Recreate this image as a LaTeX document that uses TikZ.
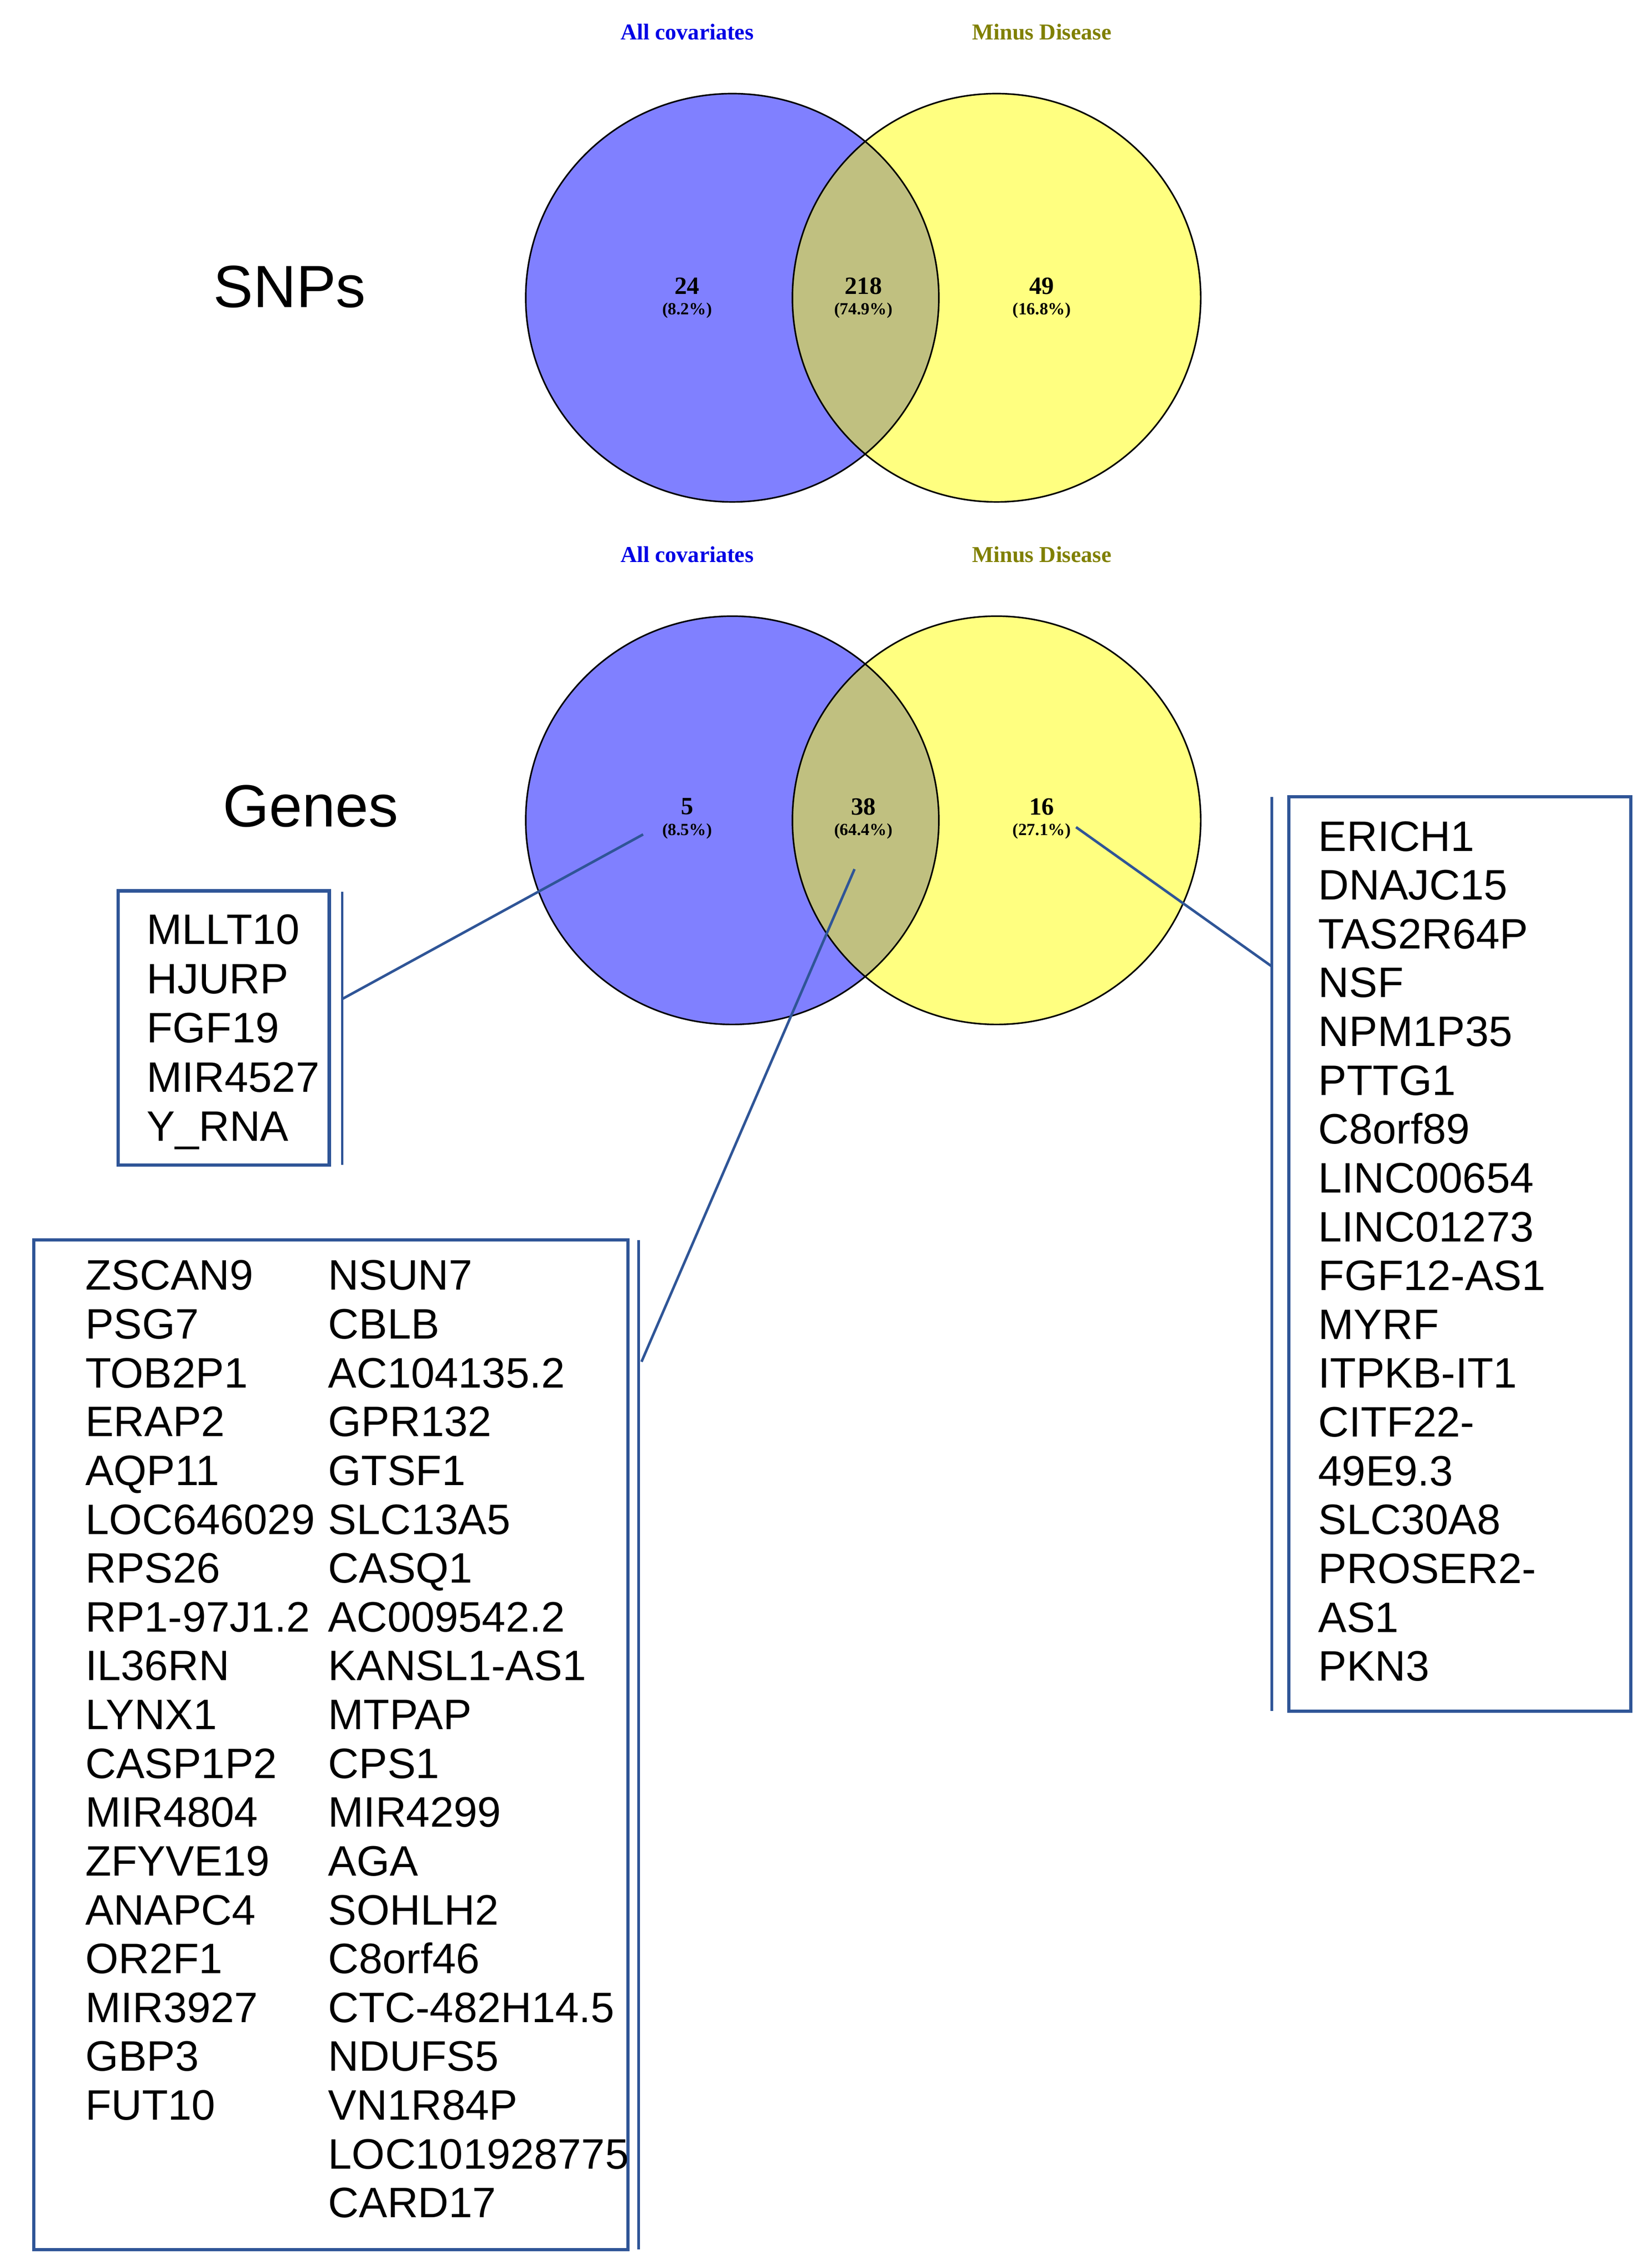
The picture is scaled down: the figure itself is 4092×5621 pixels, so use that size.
\documentclass[tikz,border=0pt]{standalone}
\usepackage{fontspec}
\setmainfont{Liberation Sans}
\newfontfamily\tms{Liberation Serif}
\definecolor{bx}{RGB}{47,85,151}
\definecolor{vb}{RGB}{128,128,255}
\definecolor{vy}{RGB}{255,255,128}
\definecolor{vo}{RGB}{192,192,128}
\definecolor{ol}{RGB}{128,128,0}
\begin{document}
\begin{tikzpicture}[x=0.01cm,y=-0.01cm,
  gene/.style={anchor=base west,inner sep=0,font=\fontsize{30}{34}\selectfont},
  lab/.style={font=\tms\bfseries\fontsize{16}{18}\selectfont},
  num/.style={font=\tms\bfseries\fontsize{17.5}{19}\selectfont},
  pct/.style={font=\tms\bfseries\fontsize{12}{13}\selectfont},
  box/.style={draw=bx,line width=2.3pt,inner sep=0},
  con/.style={draw=bx,line width=1.8pt}]
\useasboundingbox (0,0) rectangle (4092,5621);
\foreach \oy/\nm in {0/S,1295/G}{
  \begin{scope}[yshift=-\oy*0.01cm]
  \fill[vb] (1815,738) ellipse [x radius=512,y radius=506];
  \fill[vy] (2470,738) ellipse [x radius=506,y radius=506];
  \begin{scope}
    \clip (1815,738) ellipse [x radius=512,y radius=506];
    \fill[vo] (2470,738) ellipse [x radius=506,y radius=506];
  \end{scope}
  \draw[line width=1.1pt] (1815,738) ellipse [x radius=512,y radius=506];
  \draw[line width=1.1pt] (2470,738) ellipse [x radius=506,y radius=506];
  \node[lab,text=blue!90!black] (\nm la) at (1703,79) {All covariates};
  \node[lab,text=ol] (\nm lb) at (2582,79) {Minus Disease};
  \end{scope}}
\foreach \oy/\nm/\a/\b/\c/\pa/\pb/\pc in {0/S/24/218/49/8.2/74.9/16.8, 1290/G/5/38/16/8.5/64.4/27.1}{
  \node[num] (\nm na) at (1703,709+\oy) {\a};
  \node[num] (\nm nb) at (2140,709+\oy) {\b};
  \node[num] (\nm nc) at (2582,709+\oy) {\c};
  \node[pct] (\nm pa) at (1703,770+\oy) {(\pa\%)};
  \node[pct] (\nm pb) at (2140,770+\oy) {(\pb\%)};
  \node[pct] (\nm pc) at (2582,770+\oy) {(\pc\%)};
}
\node[font=\fontsize{42}{46}\selectfont] (snps) at (718,711) {SNPs};
\node[font=\fontsize{42}{46}\selectfont] (genes) at (770,1998) {Genes};
% boxes
\node[box,minimum width=5.23cm,minimum height=6.79cm] (b1) at (554.5,2547.5) {};
\node[box,minimum width=14.72cm,minimum height=25.01cm] (b2) at (820,4324.5) {};
\node[box,minimum width=8.47cm,minimum height=22.65cm] (b3) at (3618.5,3107.5) {};
\coordinate (e1t) at (848,2210); \coordinate (e1b) at (848,2887);
\coordinate (e2t) at (1583,3074); \coordinate (e2b) at (1583,5575);
\coordinate (e3t) at (3152,1975); \coordinate (e3b) at (3152,4240);
\draw[con] (e1t) -- (e1b);
\draw[con] (e2t) -- (e2b);
\draw[con] (e3t) -- (e3b);
\coordinate (c1a) at (848,2476); \coordinate (c1b) at (1594,2068);
\coordinate (c2a) at (1590,3375); \coordinate (c2b) at (2118,2154);
\coordinate (c3a) at (3152,2395); \coordinate (c3b) at (2667,2050);
\draw[con] (c1a) -- (c1b);
\draw[con] (c2a) -- (c2b);
\draw[con] (c3a) -- (c3b);
% lists
\foreach \t [count=\i] in {MLLT10,HJURP,FGF19,MIR4527,Y\_RNA}
  \node[gene] (s\i) at (363,2340+122*\i-122) {\t};
\foreach \t [count=\i] in {ZSCAN9,PSG7,TOB2P1,ERAP2,AQP11,LOC646029,RPS26,RP1-97J1.2,IL36RN,LYNX1,CASP1P2,MIR4804,ZFYVE19,ANAPC4,OR2F1,MIR3927,GBP3,FUT10}
  \node[gene] (m\i) at (211,3197+121*\i-121) {\t};
\foreach \t [count=\i] in {NSUN7,CBLB,AC104135.2,GPR132,GTSF1,SLC13A5,CASQ1,AC009542.2,KANSL1-AS1,MTPAP,CPS1,MIR4299,AGA,SOHLH2,C8orf46,CTC-482H14.5,NDUFS5,VN1R84P,LOC101928775,CARD17}
  \node[gene] (n\i) at (813,3197+121*\i-121) {\t};
\foreach \t [count=\i] in {ERICH1,DNAJC15,TAS2R64P,NSF,NPM1P35,PTTG1,C8orf89,LINC00654,LINC01273,FGF12-AS1,MYRF,ITPKB-IT1,CITF22-,49E9.3,SLC30A8,PROSER2-,AS1,PKN3}
  \node[gene] (r\i) at (3267,2109+121*\i-121) {\t};
\end{tikzpicture}
\end{document}
